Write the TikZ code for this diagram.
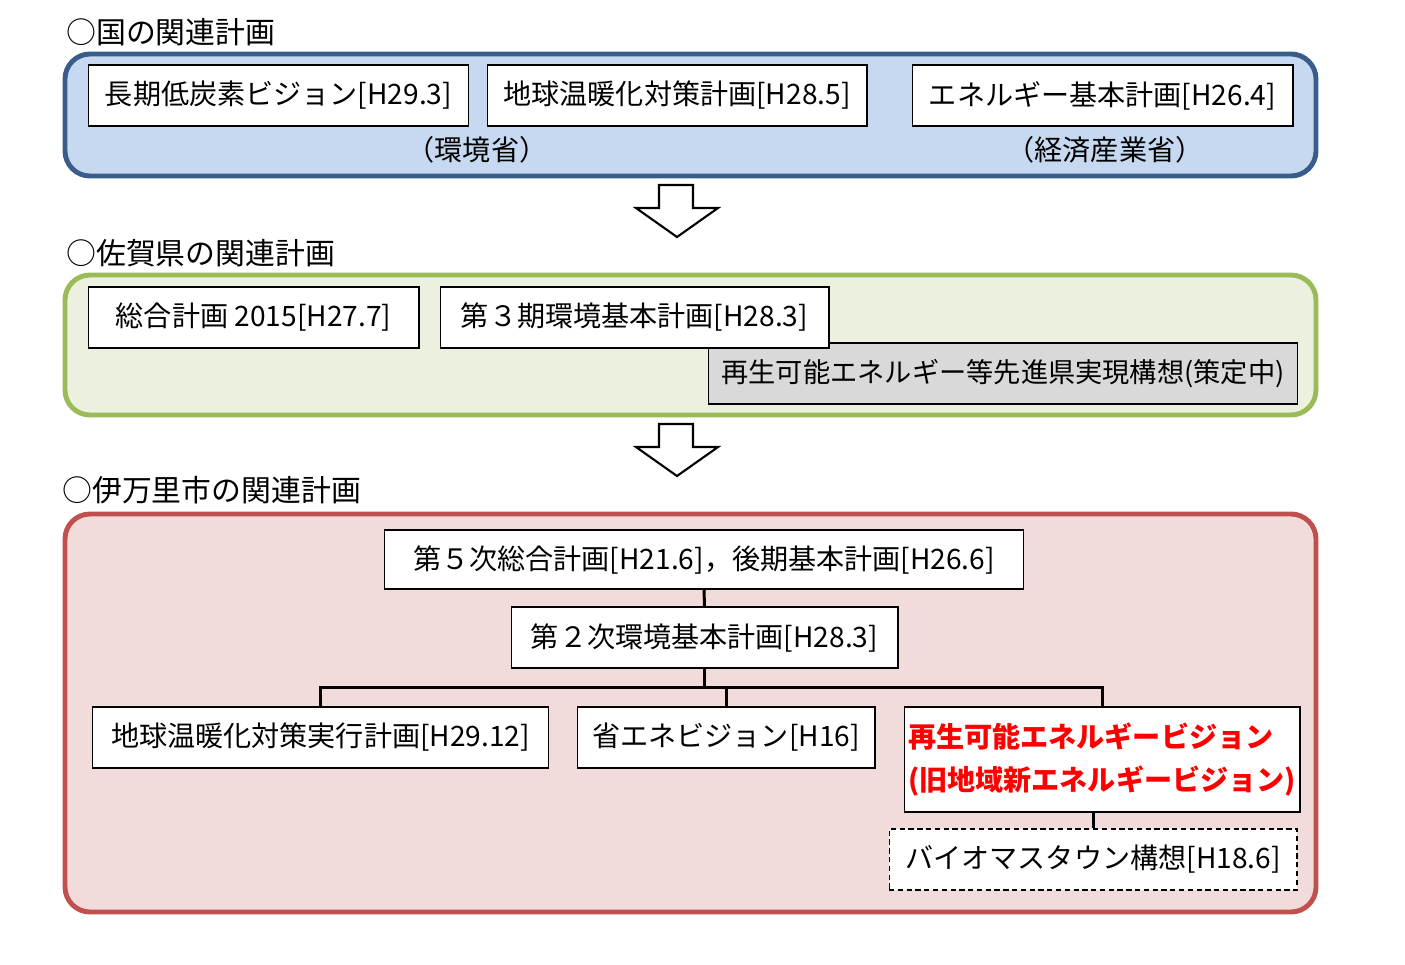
\documentclass[tikz,border=0pt]{standalone}
\usepackage{fontspec}
\setmainfont{Noto Sans CJK JP}
\usepackage{tikz}
\usetikzlibrary{positioning,calc}

\definecolor{natlfill}{RGB}{198,217,241}
\definecolor{natlline}{RGB}{56,93,138}
\definecolor{preffill}{RGB}{235,241,222}
\definecolor{prefline}{RGB}{155,187,89}
\definecolor{cityfill}{RGB}{242,220,219}
\definecolor{cityline}{RGB}{192,80,77}
\definecolor{pending}{RGB}{217,217,217}

\tikzset{
  panel/.style={rounded corners=0.5cm, line width=2.8pt},
  plan/.style={draw, fill=white, line width=0.6pt, minimum height=1.22cm, inner xsep=2pt,
    font=\fontsize{16pt}{19pt}\selectfont},
  heading/.style={anchor=west, inner sep=0pt, font=\fontsize{17pt}{20pt}\selectfont},
  link/.style={line width=1.7pt},
  hollow/.style={draw, fill=white, line width=1.2pt},
}

\begin{document}
\begin{tikzpicture}[x=0.02cm,y=-0.02cm]
		\useasboundingbox (0,0) rectangle (1405,964);
		
		\node[heading] (hnatl) at (66,32) {○国の関連計画};
		\draw[panel, draw=natlline, fill=natlfill] (65,54) rectangle (1316,176);
		\node[plan, minimum width=7.62cm] (b1) at (278.5,95.5) {長期低炭素ビジョン[H29.3]};
		\node[plan, minimum width=7.6cm] (b2) at (677,95.5) {地球温暖化対策計画[H28.5]};
		\node[plan, minimum width=7.62cm] (b3) at (1102.5,95.5) {エネルギー基本計画[H26.4]};
		\node[font=\fontsize{16pt}{19pt}\selectfont] (env) at (477,150) {（環境省）};
		\node[font=\fontsize{16pt}{19pt}\selectfont] (meti) at (1105,150) {（経済産業省）};
		
		\draw[hollow] (659,185) -- (693,185) -- (693,208) -- (718,208) -- (677,237) -- (636,208) -- (659,208) -- cycle;
		
		\node[heading] (hpref) at (66,253) {○佐賀県の関連計画};
		\draw[panel, draw=prefline, fill=preffill] (65,275) rectangle (1316,415);
		\node[plan, minimum width=6.62cm] (g1) at (253.5,317.5) {総合計画 2015[H27.7]};
		\node[plan, fill=pending, minimum width=11.8cm, font=\fontsize{15.5pt}{18pt}\selectfont] (g3) at (1003,373.5) {再生可能エネルギー等先進県実現構想(策定中)};
		\node[plan, minimum width=7.78cm] (g2) at (634.5,317.5) {第３期環境基本計画[H28.3]};
		
		\draw[hollow] (659,424) -- (693,424) -- (693,447) -- (718,447) -- (677,476) -- (636,447) -- (659,447) -- cycle;
		
		\node[heading] (hcity) at (62,490) {○伊万里市の関連計画};
		\draw[panel, draw=cityline, fill=cityfill] (65,514) rectangle (1316,912);
		\node[plan, minimum width=12.8cm, minimum height=1.18cm] (c1) at (704,559.5) {第５次総合計画[H21.6]，後期基本計画[H26.6]};
		\node[plan, minimum width=7.74cm] (c2) at (704.5,637.5) {第２次環境基本計画[H28.3]};
		\node[plan, minimum width=9.14cm] (r1) at (320.5,737.5) {地球温暖化対策実行計画[H29.12]};
		\node[plan, minimum width=5.96cm] (r2) at (726,737.5) {省エネビジョン[H16]};
		\node[plan, minimum width=7.92cm, minimum height=2.1cm, align=left, text=red,
		  font=\fontsize{16pt}{24pt}\selectfont\bfseries] (r3) at (1102,759.5) {再生可能エネルギービジョン\\(旧地域新エネルギービジョン)};
		\node[plan, dashed, dash pattern=on 3pt off 2pt, minimum width=8.16cm] (r4) at (1093,859.5) {バイオマスタウン構想[H18.6]};
		
		\coordinate (bus) at ($(c2.south)+(0,19)$);
		\draw[link] (c1.south) -- (c2.north);
		\draw[link] (c2.south) -- (bus);
		\draw[link] (r1.north) |- (bus) -| (r3.north);
		\draw[link] (bus) -| (r2.north);
		\draw[link] (r4.north) -- (r4.north |- r3.south);
	\end{tikzpicture}
\end{document}
